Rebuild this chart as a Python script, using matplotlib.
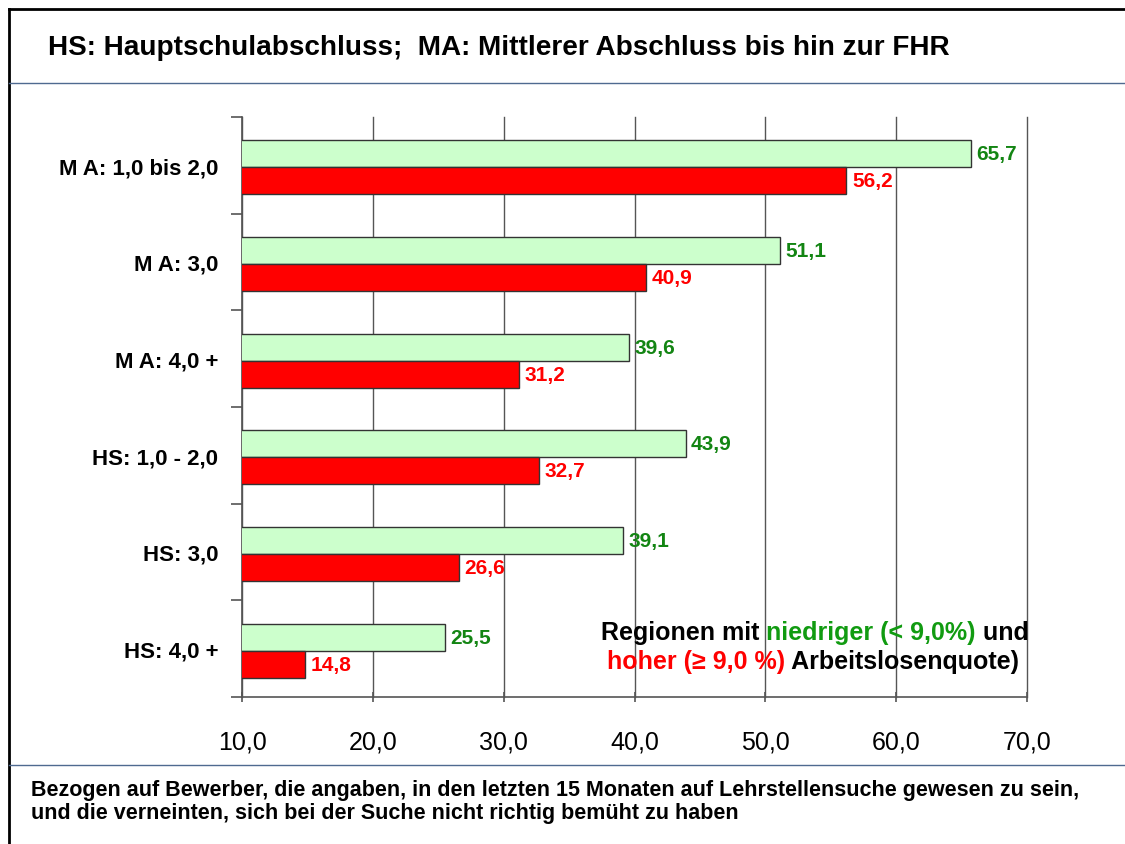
import matplotlib
matplotlib.use("Agg")
import matplotlib.pyplot as plt
from matplotlib.lines import Line2D

# ==================================================
# Data
# ==================================================

categories = ["M A: 1,0 bis 2,0", "M A: 3,0", "M A: 4,0 +",
              "HS: 1,0 - 2,0", "HS: 3,0", "HS: 4,0 +"]
low_rate = [65.7, 51.1, 39.6, 43.9, 39.1, 25.5]    # niedrige Arbeitslosenquote
high_rate = [56.2, 40.9, 31.2, 32.7, 26.6, 14.8]   # hohe Arbeitslosenquote
x_ticks = [10, 20, 30, 40, 50, 60, 70]
x_ticklabels = ["10,0", "20,0", "30,0", "40,0", "50,0", "60,0", "70,0"]

title = "HS: Hauptschulabschluss;  MA: Mittlerer Abschluss bis hin zur FHR"
footer = ("Bezogen auf Bewerber, die angaben, in den letzten 15 Monaten auf Lehrstellensuche gewesen zu sein,\n"
          "und die verneinten, sich bei der Suche nicht richtig bemüht zu haben")

def fmt(v):
    return f"{v:.1f}".replace(".", ",")

# ==================================================
# Style
# ==================================================

plt.rcParams["font.family"] = ["Liberation Sans", "DejaVu Sans"]

W, H = 1125, 845
GREEN_FILL = "#ccffcc"
GREEN_TXT = "#138513"
GREEN_LEG = "#119b11"
RED = "#ff0000"
SEP = "#4f6a90"
GRID = "#555555"

fig = plt.figure(figsize=(W / 100, H / 100), dpi=100)

# ---------- frame ----------
def px(x, y):
    return x / W, 1 - y / H

for (x0, y0), (x1, y1), c, lw in [
    ((9, 10), (W, 10), "black", 2.0),
    ((9, 10), (9, H), "black", 2.0),
    ((9, 84), (W, 84), SEP, 1.0),
    ((9, 766), (W, 766), SEP, 1.0),
]:
    a, b = px(x0, y0)
    c2, d = px(x1, y1)
    fig.add_artist(Line2D([a, c2], [b, d], color=c, lw=lw, transform=fig.transFigure))

fig.text(*px(48, 48), title, fontsize=20.1, fontweight="bold", va="center", ha="left")
fig.text(*px(31, 802), footer, fontsize=15.5, fontweight="bold", va="center", ha="left",
         linespacing=1.13)

# ---------- axes ----------
ax = fig.add_axes([242 / W, 1 - 698 / H, (1027 - 242) / W, (698 - 118) / H])

y = list(range(len(categories)))
bh = 0.28
y_low = [v - bh / 2 + 0.02 for v in y]
y_high = [v + bh / 2 + 0.02 for v in y]

ax.barh(y_low, low_rate, height=bh, color=GREEN_FILL, edgecolor="#333333", lw=1.0, zorder=3)
ax.barh(y_high, high_rate, height=bh, color=RED, edgecolor="#333333", lw=1.0, zorder=3)

for yy, v in zip(y_low, low_rate):
    ax.annotate(fmt(v), (v, yy), xytext=(4, 0), textcoords="offset points",
                va="center", ha="left", fontsize=15, fontweight="bold", color=GREEN_TXT, zorder=4)
for yy, v in zip(y_high, high_rate):
    ax.annotate(fmt(v), (v, yy), xytext=(4, 0), textcoords="offset points",
                va="center", ha="left", fontsize=15, fontweight="bold", color=RED, zorder=4)

ax.set_xlim(10, 70)
ax.set_ylim(len(categories) - 0.5, -0.5)
ax.set_xticks(x_ticks)
ax.set_xticklabels(x_ticklabels, fontsize=18)
ax.set_yticks(y)
ax.set_yticklabels(categories, fontsize=16, fontweight="bold")
ax.set_yticks([v - 0.5 for v in range(len(categories) + 1)], minor=True)

ax.tick_params(axis="y", which="major", length=0, pad=17)
ax.tick_params(axis="y", which="minor", length=8, direction="out", color=GRID, width=1.2)
ax.tick_params(axis="x", length=7, direction="inout", color=GRID, width=1.2, pad=20)

for s in ["top", "right"]:
    ax.spines[s].set_visible(False)
for s in ["left", "bottom"]:
    ax.spines[s].set_color(GRID)
    ax.spines[s].set_linewidth(1.2)

ax.grid(axis="x", color=GRID, lw=1.0, zorder=0)
ax.set_axisbelow(True)
for gl in ax.get_xgridlines():
    gl.set_clip_on(False)

# ---------- legend text ----------
def colored_line(x, yy, parts):
    first = fig.text(*px(x, yy), parts[0][0], color=parts[0][1], fontsize=18,
                     fontweight="bold", va="center", ha="left")
    prev = first
    for txt, col in parts[1:]:
        prev = ax.annotate(txt, xy=(1, 0), xycoords=prev, va="bottom", ha="left",
                           color=col, fontsize=18, fontweight="bold",
                           annotation_clip=False)

colored_line(601, 633, [("Regionen mit", "black"), (" niedriger (< 9,0%)", GREEN_LEG),
                        (" und", "black")])
colored_line(607, 662, [("hoher (≥ 9,0 %)", RED), (" Arbeitslosenquote)", "black")])

fig.savefig("out.png", dpi=100)
